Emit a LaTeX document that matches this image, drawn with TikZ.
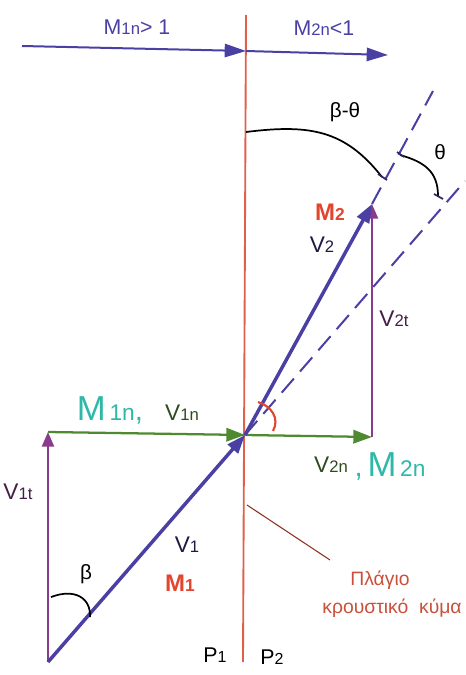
\documentclass[tikz,border=0pt]{standalone}
\usepackage{fontspec}
\setmainfont{Liberation Sans}
\usetikzlibrary{arrows.meta}
\definecolor{vblue}{HTML}{4A3FA3}
\definecolor{vpurp}{HTML}{8A3C8C}
\definecolor{vgreen}{HTML}{4F8A30}
\definecolor{shockred}{HTML}{E0604C}
\definecolor{mred}{HTML}{E2452F}
\definecolor{teal}{HTML}{2DB8A8}
\definecolor{lblgreen}{HTML}{2E4A1E}
\definecolor{leader}{HTML}{8E3320}
\definecolor{greek}{HTML}{C9503A}
\newcommand\fs[2]{{\fontsize{#1}{#1}\selectfont #2}}
\tikzset{
  tip/.style={-{Triangle[length=14pt,width=10pt]}},
  bluevec/.style={draw=vblue,line width=2.6pt,tip},
  purpvec/.style={draw=vpurp,line width=1.8pt,-{Triangle[length=11pt,width=9pt]}},
  greenvec/.style={draw=vgreen,line width=1.7pt,tip},
  topvec/.style={draw=vblue,line width=1.5pt,-{Triangle[length=16pt,width=10pt]}},
  dashln/.style={draw=vblue,line width=1.5pt,dash pattern=on 14pt off 7pt},
  anglearc/.style={draw=black,line width=1.3pt},
  tick/.style={draw=vblue!60!black,line width=1.3pt},
  lbl/.style={inner sep=0pt,font=\fontsize{17}{17}\selectfont},
}
\begin{document}
\begin{tikzpicture}[x=0.75pt,y=-0.75pt]
\useasboundingbox (0,0) rectangle (465,675);
% key points
\coordinate (O) at (245,435);
\coordinate (A) at (48,662);
\coordinate (B) at (48,432);
\coordinate (C) at (372,437);
\coordinate (D) at (372,204);
\coordinate (L0) at (22,46);
\coordinate (L1) at (246,51);
\coordinate (L2) at (388,55);
\coordinate (S1) at (246,15);
\coordinate (S2) at (243,662);
\coordinate (E1) at (465,181);
\coordinate (E2) at (433,91);
\coordinate (Q1) at (247,505);
\coordinate (Q2) at (330,560);
% shock line
\draw[shockred,line width=1.4pt] (S1) -- (S2);
\draw[leader,line width=0.8pt] (Q1) -- (Q2);
% top arrows
\draw[topvec] (L0) -- (L1);
\draw[topvec] (L1) -- (L2);
% dashed extensions
\draw[dashln] (O) -- (E1);
\draw[dashln] (D) -- (E2);
% vectors
\draw[purpvec] (A) -- (B);
\draw[purpvec] (C) -- (D);
\draw[greenvec] (B) -- (O);
\draw[greenvec] (O) -- (C);
\draw[bluevec] (A) -- (O);
\draw[bluevec] (O) -- (D);
% angle arcs
\draw[anglearc] (246,132) .. controls (310,124) and (345,130) .. (382,177);
\draw[anglearc] (400,155) .. controls (425,162) and (438,172) .. (438,196);
\draw[anglearc] (51,597) .. controls (75,588) and (91,598) .. (90,617);
\draw[tick] (378,174) -- (387,180);
\draw[tick] (397,152) -- (404,157);
\draw[tick] (434,194) -- (443,199);
\draw[mred,line width=1.6pt] (258,402) .. controls (271,406) and (280,418) .. (273,431);
% labels
\node[lbl,text=vblue] (t1) at (137,27) {\fs{16}{M}\fs{12.5}{1n}\fs{16}{> 1}};
\node[lbl,text=vblue] (t2) at (324,28) {\fs{16}{M}\fs{12.5}{2n}\fs{16}{<1}};
\node[lbl] (bt) at (345,112) {\fs{15.5}{β-θ}};
\node[lbl] (th) at (440,152) {\fs{15.5}{θ}};
\node[lbl,text=mred] (m2) at (330,212) {\fs{18}{\bfseries M}\fs{13}{\bfseries 2}};
\node[lbl,text=vblue!40!black] (v2) at (322,245) {V\fs{12.5}{2}};
\node[lbl,text=vpurp!50!black] (v2t) at (394,319) {V\fs{12.5}{2t}};
\node[lbl,text=teal] (m1n) at (110,410) {\fs{26}{M}\fs{17}{\,1n}\fs{22}{,}};
\node[lbl,text=lblgreen] (v1n) at (182,413) {V\fs{12.5}{1n}};
\node[lbl,text=lblgreen] (v2n) at (331,465) {V\fs{12.5}{2n}};
\node[lbl,text=teal] (m2n) at (390,466) {\fs{22}{,\,}\fs{26}{M}\fs{17}{\,2n}};
\node[lbl,text=vpurp!50!black] (v1t) at (18,492) {V\fs{12.5}{1t}};
\node[lbl,text=vblue!40!black] (v1) at (187,545) {V\fs{12.5}{1}};
\node[lbl,text=mred] (m1) at (180,583) {\fs{18}{\bfseries M}\fs{13}{\bfseries 1}};
\node[lbl] (be) at (86,574) {\fs{15.5}{β}};
\node[lbl,text=greek] (g1) at (380,580) {\fs{14.5}{Πλάγιο}};
\node[lbl,text=greek] (g2) at (392,608) {\fs{14.5}{κρουστικό\ \ κύμα}};
\node[lbl] (p1) at (215,655) {\fs{16}{P}\fs{12}{1}};
\node[lbl] (p2) at (272,657) {\fs{16}{P}\fs{12}{2}};
\end{tikzpicture}
\end{document}
